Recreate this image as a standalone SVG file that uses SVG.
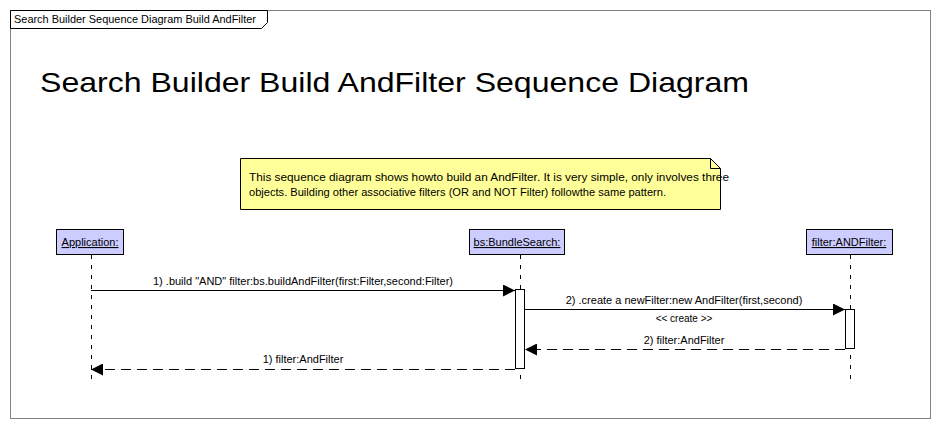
<svg xmlns="http://www.w3.org/2000/svg" width="940" height="429" viewBox="0 0 940 429">
<defs>
<style>
text{font-family:"Liberation Sans",Arial,sans-serif;fill:#000}
.lbl{font-size:11px}
.obj{fill:#ccccff;stroke:#000;stroke-width:1}
.life{stroke:#000;stroke-width:1;stroke-dasharray:4,6}
.act{fill:#fff;stroke:#000;stroke-width:1}
.msg{stroke:#000;stroke-width:1;fill:none}
.ret{stroke:#000;stroke-width:1;fill:none;stroke-dasharray:10,6}
</style>
<marker id="ah" markerWidth="13" markerHeight="12" refX="12" refY="6" orient="auto" markerUnits="userSpaceOnUse">
<path d="M0,0 L12,6 L0,12 Z" fill="#000"/>
</marker>
</defs>
<rect width="940" height="429" fill="#fff"/>
<g id="frame">
<rect x="10.5" y="10.5" width="920" height="408" fill="none" stroke="#808080"/>
<path d="M10.5,10.5 H267.5 V22.5 L261.5,28.5 H10.5 Z" fill="#fff" stroke="#000"/>
<text x="14" y="23" class="lbl" textLength="242" lengthAdjust="spacingAndGlyphs">Search Builder Sequence Diagram Build AndFilter</text>
</g>
<g id="title">
<text x="40" y="92" font-size="28" textLength="709" lengthAdjust="spacingAndGlyphs">Search Builder Build AndFilter Sequence Diagram</text>
</g>
<g id="note">
<path d="M240.5,158.5 H710.5 L720.5,168.5 V209.5 H240.5 Z" fill="#ffff99" stroke="#000"/>
<path d="M710.5,158.5 V168.5 H720.5" fill="none" stroke="#000"/>
<text x="249" y="181" font-size="10" textLength="480" lengthAdjust="spacingAndGlyphs">This sequence diagram shows howto build an AndFilter. It is very simple, only involves three</text>
<text x="249" y="196" font-size="10" textLength="417" lengthAdjust="spacingAndGlyphs">objects. Building other associative filters (OR and NOT Filter) followthe same pattern.</text>
</g>
<g id="application">
<rect class="obj" x="56.5" y="229.5" width="67" height="25"/>
<text x="90" y="246" class="lbl" text-anchor="middle" text-decoration="underline">Application:</text>
<line class="life" x1="91.5" y1="255" x2="91.5" y2="383"/>
</g>
<g id="bundlesearch">
<rect class="obj" x="469.5" y="229.5" width="95" height="25"/>
<text x="517" y="246" class="lbl" text-anchor="middle" text-decoration="underline">bs:BundleSearch:</text>
<line class="life" x1="520.5" y1="255" x2="520.5" y2="383"/>
<rect class="act" x="515.5" y="289.5" width="9" height="79"/>
</g>
<g id="andfilter">
<rect class="obj" x="806.5" y="229.5" width="86" height="25"/>
<text x="849" y="246" class="lbl" text-anchor="middle" text-decoration="underline">filter:ANDFilter:</text>
<line class="life" x1="850.5" y1="255" x2="850.5" y2="383"/>
<rect class="act" x="845.5" y="309.5" width="9" height="39"/>
</g>
<g id="connectors">
<line class="msg" x1="91" y1="290.5" x2="515" y2="290.5" marker-end="url(#ah)"/>
<text x="303" y="285" class="lbl" text-anchor="middle">1) .build "AND" filter:bs.buildAndFilter(first:Filter,second:Filter)</text>
<line class="msg" x1="525" y1="309.5" x2="845" y2="309.5" marker-end="url(#ah)"/>
<text x="684" y="304" class="lbl" text-anchor="middle">2) .create a newFilter:new AndFilter(first,second)</text>
<text x="684" y="322" font-size="10" text-anchor="middle">&lt;&lt; create &gt;&gt;</text>
<line class="ret" x1="845" y1="349.5" x2="525" y2="349.5" marker-end="url(#ah)"/>
<text x="684" y="344" class="lbl" text-anchor="middle">2) filter:AndFilter</text>
<line class="ret" x1="515" y1="369.5" x2="91" y2="369.5" marker-end="url(#ah)"/>
<text x="303" y="363" class="lbl" text-anchor="middle">1) filter:AndFilter</text>
</g>
</svg>
